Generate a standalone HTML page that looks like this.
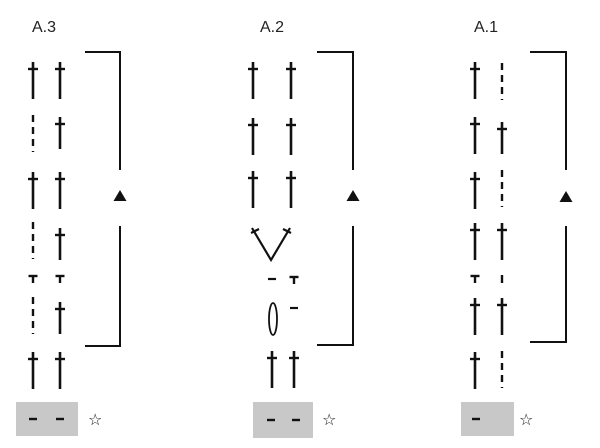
<!DOCTYPE html>
<html><head><style>body{margin:0;background:#fff}svg{display:block}</style></head><body>
<svg width="600" height="448" viewBox="0 0 600 448" xmlns="http://www.w3.org/2000/svg">
<defs>
<g id="dg"><line x1="0" y1="0" x2="0" y2="37" stroke="#111" stroke-width="2.6"/><line x1="-5" y1="7" x2="5" y2="7" stroke="#111" stroke-width="2.4"/></g>
<g id="dgs"><line x1="0" y1="0" x2="0" y2="32" stroke="#111" stroke-width="2.6"/><line x1="-5" y1="7" x2="5" y2="7" stroke="#111" stroke-width="2.4"/></g>
<g id="ds"><line x1="0" y1="0" x2="0" y2="37" stroke="#111" stroke-width="2.4" stroke-dasharray="7,5"/></g>
<g id="tt"><line x1="0" y1="0" x2="0" y2="8" stroke="#111" stroke-width="2.4"/><line x1="-4.5" y1="1" x2="4.5" y2="1" stroke="#111" stroke-width="2.4"/></g>
</defs>
<g font-family="Liberation Sans, sans-serif" font-size="16" fill="#222">
<text x="32" y="32">A.3</text><text x="260" y="32">A.2</text><text x="474" y="32">A.1</text>
</g>
<g stroke="#111" stroke-width="2" fill="none">
<path d="M85 52H120V170M120 226V346H85"/>
<path d="M317 52H353V170M353 226V345H317"/>
<path d="M530 52H566V170M566 226V342H530"/>
</g>
<g fill="#111">
<polygon points="120,190 126.5,201 113.5,201"/>
<polygon points="353,190 359.5,201 346.5,201"/>
<polygon points="566,191 572.5,202 559.5,202"/>
</g>
<!-- A.3 -->
<use href="#dg" x="33" y="62"/><use href="#dg" x="60" y="62"/>
<use href="#ds" x="33" y="115"/><use href="#dgs" x="60" y="117"/>
<use href="#dg" x="33" y="172"/><use href="#dg" x="60" y="172"/>
<use href="#ds" x="33" y="222"/><use href="#dgs" x="60" y="228"/>
<use href="#tt" x="33" y="275"/><use href="#tt" x="60" y="275"/>
<use href="#ds" x="33" y="297"/><use href="#dgs" x="60" y="302"/>
<use href="#dg" x="33" y="352"/><use href="#dg" x="60" y="352"/>
<rect x="16" y="402" width="62" height="34" fill="#c8c8c8"/>
<g stroke="#111" stroke-width="2.4"><line x1="29" y1="419" x2="37" y2="419"/><line x1="56" y1="419" x2="64" y2="419"/></g>
<text x="88" y="425" font-size="16" font-family="DejaVu Sans, sans-serif" fill="#111">☆</text>
<!-- A.2 -->
<use href="#dg" x="253" y="62"/><use href="#dg" x="291" y="62"/>
<use href="#dg" x="253" y="118"/><use href="#dg" x="291" y="118"/>
<use href="#dg" x="253" y="171"/><use href="#dg" x="291" y="171"/>
<g stroke="#111" stroke-width="2.2" fill="none">
<path d="M252 228L271 260L290 228"/>
<line x1="251" y1="233" x2="259" y2="229"/><line x1="283" y1="229" x2="291" y2="233"/>
<line x1="268" y1="279" x2="276" y2="279"/>
<line x1="290" y1="308" x2="298" y2="308"/>
<ellipse cx="273" cy="319" rx="4" ry="16" stroke-width="1.8"/>
</g>
<use href="#tt" x="294" y="276"/>
<use href="#dg" x="272" y="351"/><use href="#dg" x="294" y="351"/>
<rect x="253" y="402" width="60" height="36" fill="#c8c8c8"/>
<g stroke="#111" stroke-width="2.4"><line x1="267" y1="420" x2="275" y2="420"/><line x1="292" y1="420" x2="300" y2="420"/></g>
<text x="322" y="425" font-size="16" font-family="DejaVu Sans, sans-serif" fill="#111">☆</text>
<!-- A.1 -->
<use href="#dg" x="475" y="62"/><use href="#ds" x="502" y="63"/>
<use href="#dg" x="475" y="117"/><use href="#dgs" x="502" y="122"/>
<use href="#dg" x="475" y="172"/><use href="#ds" x="502" y="170"/>
<use href="#dg" x="475" y="223"/><use href="#dg" x="502" y="223"/>
<use href="#tt" x="475" y="275"/><line x1="502" y1="275" x2="502" y2="283" stroke="#111" stroke-width="2.4"/>
<use href="#dg" x="475" y="298"/><use href="#dg" x="502" y="298"/>
<use href="#dg" x="475" y="352"/><use href="#ds" x="502" y="351"/>
<rect x="461" y="402" width="53" height="34" fill="#c8c8c8"/>
<line x1="472" y1="419" x2="480" y2="419" stroke="#111" stroke-width="2.4"/>
<text x="519" y="425" font-size="16" font-family="DejaVu Sans, sans-serif" fill="#111">☆</text>
</svg>
</body></html>
